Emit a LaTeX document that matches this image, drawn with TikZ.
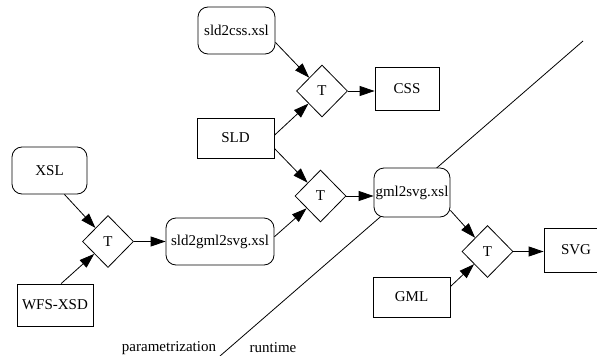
\documentclass[tikz,border=0pt]{standalone}
\usepackage{fontspec}
\setmainfont{Liberation Serif}
\usetikzlibrary{shapes.geometric,arrows.meta}
\begin{document}
\begin{tikzpicture}[x=1pt,y=-1pt,
  every node/.style={font=\fontsize{15}{18}\selectfont, line width=0.8pt},
  rbox/.style={draw, rounded corners=10pt, fill=white, inner sep=0pt},
  sbox/.style={draw, fill=white, inner sep=0pt},
  tdiam/.style={draw, diamond, fill=white, inner sep=0pt, minimum width=51pt, minimum height=52pt},
  arr/.style={line width=0.8pt, -{Triangle[length=15pt,width=10pt]}},
  lbl/.style={inner sep=0pt}
]
\useasboundingbox (0,0) rectangle (597,356);
\clip (0,0) rectangle (597,356);
% divider
\coordinate (d1) at (583,41);
\coordinate (d2) at (220,356);
\draw[line width=0.8pt] (d1) -- (d2);
% nodes
\node[rbox, minimum width=77pt, minimum height=47pt] (sld2css) at (236.5,30.5) {sld2css.xsl};
\node[sbox, minimum width=77pt, minimum height=40pt] (sld) at (235.5,138) {SLD};
\node[sbox, minimum width=64pt, minimum height=43pt] (css) at (407,88.5) {CSS};
\node[tdiam] (t1) at (322,91) {T};
\node[tdiam] (t2) at (320.5,196) {T};
\node[tdiam] (t3) at (487.5,251.5) {T};
\node[tdiam] (t4) at (108,241.5) {T};
\node[rbox, minimum width=75pt, minimum height=47pt] (xsl) at (49.5,170.5) {XSL};
\node[sbox, minimum width=76pt, minimum height=42pt] (wfs) at (55,305) {WFS-XSD};
\node[rbox, minimum width=108pt, minimum height=47pt] (s2g) at (220,241.5) {sld2gml2svg.xsl};
\node[rbox, minimum width=76pt, minimum height=49pt] (g2s) at (412,192.5) {gml2svg.xsl};
\node[sbox, minimum width=77pt, minimum height=40pt] (gml) at (411.5,297) {GML};
\node[sbox, minimum width=64pt, minimum height=44pt] (svg) at (576,250) {SVG};
\node[lbl] (lp) at (169,348) {parametrization};
\node[lbl] (lr) at (273,348) {runtime};
% edges
\draw[arr] (sld2css.-17) -- (t1);
\draw[arr] (sld.4) -- (t1);
\draw[arr] (sld.-15) -- (t2);
\draw[arr] (t1.east) -- (t1.east -| css.west);
\draw[arr] (xsl.-58) -- (t4);
\draw[arr] (wfs.74) -- (t4);
\draw[arr] (t4.east) -- (t4.east -| s2g.west);
\draw[arr] (s2g.5) -- (t2);
\draw[arr] (t2.east) -- (t2.east -| g2s.west);
\draw[arr] (g2s.-25) -- (t3);
\draw[arr] (gml.15) -- (t3);
\draw[arr] (t3.east) -- (t3.east -| svg.west);
\end{tikzpicture}
\end{document}
